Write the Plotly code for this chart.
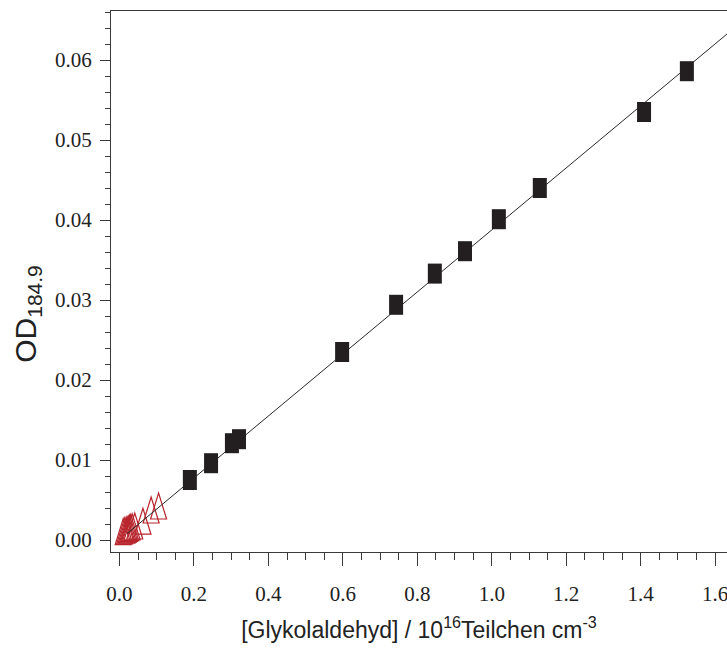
import numpy as np
import plotly.graph_objects as go

# --- data ---
sq_x = [0.189, 0.246, 0.302, 0.321, 0.598, 0.743, 0.847, 0.928, 1.019, 1.129, 1.409, 1.524]
sq_y = [0.0075, 0.0096, 0.0121, 0.0126, 0.0235, 0.0294, 0.0333, 0.0361, 0.0401, 0.0440, 0.0535, 0.0586]

tri_x = [0.010, 0.014, 0.018, 0.021, 0.024, 0.027, 0.030, 0.034, 0.041, 0.063, 0.085, 0.105]
tri_y = [0.0008, 0.0009, 0.0010, 0.0010, 0.0011, 0.0012, 0.0013, 0.0014, 0.0015, 0.0021, 0.0035, 0.0040]

x_ticks = [0.0, 0.2, 0.4, 0.6, 0.8, 1.0, 1.2, 1.4, 1.6]
y_ticks = [0.00, 0.01, 0.02, 0.03, 0.04, 0.05, 0.06]

# linear fit through the origin (all points)
all_x = np.array(sq_x + tri_x)
all_y = np.array(sq_y + tri_y)
slope = float(np.sum(all_x * all_y) / np.sum(all_x * all_x))
fit_x = np.array([0.02, 1.70])
fit_y = slope * fit_x

BLACK = "#231f20"
RED = "#b8252c"
AXIS = "#3a3a3a"

fig = go.Figure()

fig.add_trace(go.Scatter(
    x=fit_x, y=fit_y, mode="lines",
    line=dict(color="#2a2a2a", width=1),
    hoverinfo="skip", showlegend=False, cliponaxis=True,
))

fig.add_trace(go.Scatter(
    x=sq_x, y=sq_y, mode="markers",
    marker=dict(symbol="line-ns", size=14.3,
                line=dict(color=BLACK, width=14)),
    showlegend=False,
))

# open triangles (taller than wide), anchored at data points via the axes
for tx, ty in zip(tri_x, tri_y):
    fig.add_shape(
        type="path", xref="x", yref="y",
        xsizemode="pixel", ysizemode="pixel",
        xanchor=tx, yanchor=ty,
        path="M-8,-11 L0,15 L8,-11 Z",
        line=dict(color=RED, width=1.2),
        fillcolor="rgba(0,0,0,0)",
        layer="below",
    )

tick_font = dict(family="Liberation Serif, Times New Roman, serif", size=21, color="#222")

fig.update_xaxes(
    range=[-0.0228, 1.6318],
    tickvals=x_ticks, ticktext=[f"{v:.1f}" for v in x_ticks],
    ticks="outside", ticklen=13, tickwidth=1, tickcolor=AXIS,
    minor=dict(dtick=0.05, tick0=0, ticks="outside", ticklen=7, tickwidth=1, tickcolor=AXIS),
    showline=True, linecolor=AXIS, linewidth=1, mirror=True,
    showgrid=False, zeroline=False,
    tickfont=tick_font, ticklabelstandoff=10, ticklabeloverflow="allow",
    title=dict(text="[Glykolaldehyd] / 10<sup>16</sup>Teilchen cm<sup>-3</sup>",
               font=dict(family="Liberation Sans, Arial, sans-serif", size=23, color="#222"),
               standoff=16),
)

fig.update_yaxes(
    range=[-0.0015, 0.066125],
    tickvals=y_ticks, ticktext=[f"{v:.2f}" for v in y_ticks],
    ticks="outside", ticklen=10, tickwidth=1, tickcolor=AXIS,
    minor=dict(dtick=0.002, tick0=0, ticks="outside", ticklen=5, tickwidth=1, tickcolor=AXIS),
    showline=True, linecolor=AXIS, linewidth=1, mirror=False,
    showgrid=False, zeroline=False,
    tickfont=tick_font, ticklabelstandoff=4,
)

fig.add_annotation(
    text="OD<sub>184.9</sub>", xref="paper", yref="paper",
    x=-0.135, y=0.44, xanchor="center", yanchor="middle",
    textangle=-90, showarrow=False,
    font=dict(family="Liberation Sans, Arial, sans-serif", size=30, color="#222"),
)

fig.update_layout(
    width=727, height=657,
    margin=dict(l=111, r=0, t=11, b=105),
    plot_bgcolor="white", paper_bgcolor="white",
    showlegend=False,
)

fig.write_html("out.html")
